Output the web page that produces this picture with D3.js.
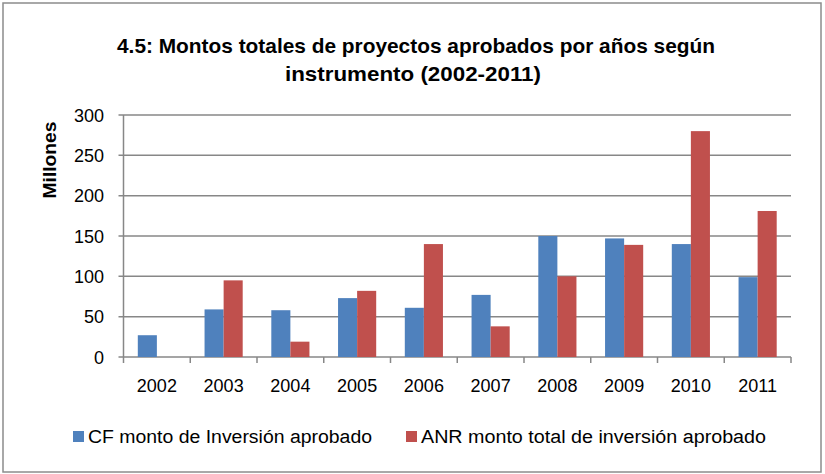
<!DOCTYPE html>
<html>
<head>
<meta charset="utf-8">
<script src="https://cdn.jsdelivr.net/npm/d3@7"></script>
<style>
body { margin: 0; background: #fff; }
text { font-family: "Liberation Sans", Arial, sans-serif; fill: #000; }
</style>
</head>
<body>
<div id="chart"></div>
<script>
var years = ["2002","2003","2004","2005","2006","2007","2008","2009","2010","2011"];
var cfValues = [27, 59, 58, 73, 61, 77, 150, 147, 140, 99];
var anrValues = [0, 95, 19, 82, 140, 38, 100, 139, 280, 181];
var seriesNames = ["CF monto de Inversión aprobado", "ANR monto total de inversión aprobado"];
var yTicks = [0, 50, 100, 150, 200, 250, 300];
var titleLines = ["4.5: Montos totales de proyectos aprobados por años según", "instrumento (2002-2011)"];

var colors = ["#4F81BD", "#C0504D"];
var W = 825, H = 474;

var svg = d3.select("#chart")
            .append("svg")
            .attr("width", W)
            .attr("height", H);

// outer frame
svg.append("rect")
   .attr("x", 3).attr("y", 3)
   .attr("width", 818).attr("height", 469)
   .attr("fill", "#fff")
   .attr("stroke", "#8c8c8c")
   .attr("stroke-width", 1.5);

var plotLeft = 123.5, plotRight = 791, plotTop = 115, plotBottom = 357;

var x = d3.scaleBand()
          .domain(years)
          .range([plotLeft, plotRight]);

// 150% gap width, bars touch each other in a group
var inner = d3.scaleBand()
              .domain([0, 1])
              .range([0, x.bandwidth() * 2 / 3.5]);

var y = d3.scaleLinear()
          .domain([0, 300])
          .range([plotBottom, plotTop]);

// grid lines
svg.selectAll(".grid")
   .data(yTicks)
   .enter().append("line")
   .attr("x1", plotLeft - 5)
   .attr("x2", plotRight)
   .attr("y1", function(d) { return y(d); })
   .attr("y2", function(d) { return y(d); })
   .attr("stroke", "#878787")
   .attr("stroke-width", 1.5);

// y axis line
svg.append("line")
   .attr("x1", plotLeft).attr("x2", plotLeft)
   .attr("y1", plotTop).attr("y2", plotBottom)
   .attr("stroke", "#878787")
   .attr("stroke-width", 1.5);

// x tick marks at category boundaries
var bounds = years.map(function(d) { return x(d); }).concat([plotRight]);
svg.selectAll(".xtick")
   .data(bounds)
   .enter().append("line")
   .attr("x1", function(d) { return d; })
   .attr("x2", function(d) { return d; })
   .attr("y1", plotBottom)
   .attr("y2", plotBottom + 6)
   .attr("stroke", "#878787")
   .attr("stroke-width", 1.5);

// bars
var series = [cfValues, anrValues];
var gap = (x.bandwidth() - inner.range()[1]) / 2;
for (var s = 0; s < series.length; s++) {
  var rows = series[s].map(function(v, i) { return { year: years[i], v: v }; })
                      .filter(function(d) { return d.v > 0; });
  svg.selectAll(".bar" + s)
     .data(rows)
     .enter().append("rect")
     .attr("x", function(d) { return x(d.year) + gap + inner(s); })
     .attr("y", function(d) { return y(d.v); })
     .attr("width", inner.bandwidth())
     .attr("height", function(d) { return plotBottom - y(d.v); })
     .attr("fill", colors[s]);
}

// y labels
svg.selectAll(".ylab")
   .data(yTicks)
   .enter().append("text")
   .attr("x", 104)
   .attr("y", function(d) { return y(d) + 6.5; })
   .attr("text-anchor", "end")
   .style("font-size", "18px")
   .text(function(d) { return d; });

// x labels
svg.selectAll(".xlab")
   .data(years)
   .enter().append("text")
   .attr("x", function(d) { return x(d) + x.bandwidth() / 2; })
   .attr("y", 392)
   .attr("text-anchor", "middle")
   .style("font-size", "18px")
   .text(function(d) { return d; });

// y title
svg.append("text")
   .attr("transform", "translate(56,160) rotate(-90)")
   .attr("text-anchor", "middle")
   .attr("textLength", 77)
   .attr("lengthAdjust", "spacingAndGlyphs")
   .style("font-size", "18px")
   .style("font-weight", "bold")
   .text("Millones");

// chart title
svg.append("text")
   .attr("x", 416).attr("y", 53)
   .attr("text-anchor", "middle")
   .attr("textLength", 598)
   .attr("lengthAdjust", "spacingAndGlyphs")
   .style("font-size", "21px")
   .style("font-weight", "bold")
   .text(titleLines[0]);
svg.append("text")
   .attr("x", 413).attr("y", 81)
   .attr("text-anchor", "middle")
   .attr("textLength", 256)
   .attr("lengthAdjust", "spacingAndGlyphs")
   .style("font-size", "21px")
   .style("font-weight", "bold")
   .text(titleLines[1]);

// legend
var legendX = [73, 406];
var legendW = [284, 345];
for (var k = 0; k < seriesNames.length; k++) {
  svg.append("rect")
     .attr("x", legendX[k]).attr("y", 431)
     .attr("width", 11).attr("height", 11)
     .attr("fill", colors[k]);
  svg.append("text")
     .attr("x", legendX[k] + 15).attr("y", 443)
     .attr("textLength", legendW[k])
     .attr("lengthAdjust", "spacingAndGlyphs")
     .style("font-size", "18px")
     .text(seriesNames[k]);
}
</script>
</body>
</html>
